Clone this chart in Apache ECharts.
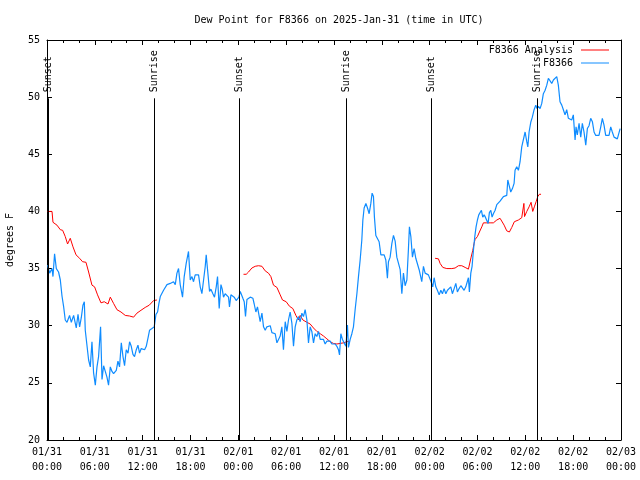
<!DOCTYPE html>
<html>
<head>
<meta charset="utf-8">
<script src="https://cdn.jsdelivr.net/npm/echarts@6/dist/echarts.min.js"></script>
<style>html,body{margin:0;padding:0;background:#fff}#c{width:640px;height:480px}</style>
</head>
<body>
<div id="c"></div>
<script>
// ---- data (hours since 2025-01-31 00:00 UTC) ----
const xTickLabels = ['01/31\n00:00','01/31\n06:00','01/31\n12:00','01/31\n18:00','02/01\n00:00','02/01\n06:00','02/01\n12:00','02/01\n18:00','02/02\n00:00','02/02\n06:00','02/02\n12:00','02/02\n18:00','02/03\n00:00'];

const obsHours = [0.08,0.33,0.63,0.75,0.95,1.17,1.45,1.67,1.88,2.08,2.29,2.51,2.83,3.05,3.34,3.55,3.67,3.89,4.09,4.30,4.51,4.68,4.80,5.02,5.22,5.43,5.64,5.84,6.06,6.27,6.47,6.72,6.90,7.10,7.31,7.52,7.72,7.94,8.15,8.35,8.69,8.90,9.10,9.32,9.53,9.73,9.94,10.16,10.36,10.57,10.78,10.98,11.20,11.41,11.61,11.82,12.04,12.24,12.45,12.66,12.86,13.16,13.45,13.67,13.87,14.04,14.21,14.62,15.05,15.46,15.87,16.09,16.30,16.50,16.71,17.00,17.21,17.47,17.75,17.97,18.18,18.38,18.59,18.81,19.01,19.22,19.43,19.63,19.85,19.97,20.14,20.39,20.56,20.81,21.01,21.23,21.39,21.60,21.82,21.98,22.14,22.35,22.57,22.77,22.89,23.07,23.32,23.48,23.73,23.90,24.07,24.24,24.36,24.57,24.74,24.90,25.08,25.28,25.49,25.83,25.99,26.20,26.40,26.62,26.74,26.96,27.16,27.37,27.58,27.78,28.00,28.21,28.41,28.62,28.84,29.04,29.25,29.46,29.66,29.88,30.09,30.29,30.50,30.72,30.92,31.13,31.34,31.54,31.76,31.97,32.17,32.38,32.60,32.80,33.01,33.22,33.43,33.64,33.85,34.05,34.27,34.48,34.68,34.89,35.11,35.31,35.52,35.73,35.93,36.15,36.36,36.56,36.69,36.86,37.06,37.27,37.49,37.69,37.81,38.03,38.24,38.44,38.65,38.87,39.07,39.28,39.49,39.62,39.78,40.00,40.20,40.41,40.62,40.78,40.95,41.07,41.25,41.45,41.66,41.88,42.08,42.29,42.50,42.70,42.83,43.04,43.26,43.46,43.67,43.88,44.08,44.30,44.51,44.71,44.92,45.14,45.34,45.46,45.64,45.84,46.05,46.26,46.46,46.68,46.89,47.01,47.22,47.43,47.64,47.84,48.06,48.18,48.39,48.56,48.77,48.97,49.19,49.40,49.60,49.81,50.03,50.23,50.44,50.65,50.85,51.07,51.28,51.48,51.69,51.91,52.11,52.32,52.53,52.73,52.86,52.98,53.16,53.32,53.49,53.66,53.82,53.99,54.16,54.33,54.49,54.66,54.83,54.99,55.17,55.33,55.49,55.67,55.83,55.99,56.21,56.42,56.62,56.83,57.05,57.25,57.46,57.67,57.80,57.96,58.17,58.38,58.59,58.71,58.92,59.13,59.34,59.55,59.75,59.97,60.18,60.31,60.47,60.68,60.88,61.10,61.31,61.47,61.64,61.85,62.06,62.26,62.48,62.69,62.89,63.10,63.31,63.52,63.73,63.94,64.14,64.35,64.57,64.77,64.98,65.19,65.40,65.61,65.82,66.02,66.24,66.36,66.52,66.74,66.95,67.15,67.36,67.58,67.78,67.99,68.20,68.41,68.62,68.83,69.03,69.24,69.46,69.66,69.87,70.08,70.28,70.50,70.71,70.91,71.13,71.34,71.54,71.72,71.89];
const obsValues = [35.3,34.6,35.0,34.3,36.3,35.0,34.7,34.0,32.6,31.7,30.5,30.3,30.9,30.3,30.9,30.2,29.8,31.0,29.9,30.7,31.8,32.1,29.6,29.5,27.0,26.4,28.6,25.9,24.8,26.4,27.3,29.9,25.3,26.5,26.0,25.5,24.8,26.4,26.0,25.8,26.1,26.9,26.4,28.5,27.3,26.5,27.9,27.6,28.6,28.2,27.5,27.3,27.9,28.3,27.6,28.0,27.9,27.9,28.2,28.9,29.6,29.75,29.9,31.0,31.2,31.95,32.55,33.1,33.6,33.7,33.85,33.6,34.6,35.0,33.6,32.5,34.3,35.5,36.5,34.0,34.3,33.85,34.45,34.6,34.45,33.4,32.8,32.7,35.2,36.2,34.9,33.0,33.2,32.8,32.5,33.4,34.3,31.5,33.6,33.2,32.5,32.8,32.7,32.5,31.65,32.7,32.8,32.5,32.2,32.1,32.5,33.0,33.1,32.4,32.1,30.8,32.3,32.4,32.5,32.4,31.9,31.2,31.65,31.5,30.35,31.1,29.9,29.6,29.9,29.8,30.0,29.4,29.4,29.3,28.5,28.8,29.1,29.9,27.9,30.35,29.5,30.5,31.2,30.2,28.2,29.9,30.5,30.8,30.35,31.1,30.8,31.4,30.5,28.5,29.9,29.5,28.5,29.3,29.05,29.5,28.8,28.65,28.8,28.4,28.65,28.5,28.65,28.4,28.5,28.4,28.2,27.9,27.45,29.3,28.8,28.5,28.2,30.05,28.1,28.8,29.3,29.9,31.4,32.8,34.3,35.75,37.5,39.25,40.3,40.7,40.3,39.8,40.7,41.6,41.3,39.5,37.9,37.9,37.35,36.2,36.2,36.2,35.75,34.15,35.6,36.0,37.2,37.9,37.4,36.0,35.9,34.9,32.8,34.6,33.5,34.0,36.75,38.65,37.8,36.0,36.75,35.9,35.9,34.9,34.75,33.85,35.2,34.6,34.6,34.45,34.6,33.85,33.4,34.2,33.4,33.1,32.7,33.1,32.8,33.25,32.8,33.1,32.95,33.4,32.8,33.25,33.7,32.95,33.25,33.5,33.4,33.1,33.4,33.5,34.2,32.95,34.6,35.2,36.6,37.8,38.65,39.25,39.7,39.8,40.1,39.5,39.7,39.5,39.4,38.95,39.9,40.1,39.5,39.8,40.1,40.6,40.7,40.9,41.05,41.3,41.4,41.4,42.75,42.3,41.7,42.0,42.45,43.6,43.9,43.6,44.35,45.65,45.8,46.95,46.1,45.65,46.95,47.8,48.25,48.9,49.3,49.0,49.2,49.0,49.45,50.3,50.6,51.05,51.65,51.5,51.2,51.5,51.35,51.8,51.05,49.6,49.3,48.9,48.45,48.9,48.15,48.3,48.0,48.45,46.25,47.4,46.7,47.7,46.5,47.7,46.95,45.8,47.25,47.5,48.15,47.85,46.95,46.65,46.65,46.65,47.4,48.15,47.55,46.65,46.65,46.65,47.4,46.95,46.5,46.5,46.35,46.2,47.25];

const anaHours1 = [0.08,0.63,0.75,1.25,1.67,1.96,2.29,2.58,2.73,2.92,3.26,3.64,4.09,4.46,4.89,5.22,5.64,5.97,6.34,6.77,7.18,7.65,7.94,8.35,8.78,9.28,9.82,10.36,10.86,11.28,11.79,12.32,12.83,13.37,13.79];
const anaValues1 = [40.0,40.0,39.05,38.8,38.4,38.35,37.8,37.15,37.2,37.65,36.9,36.2,35.9,35.6,35.55,34.7,33.55,33.4,32.7,32.0,32.1,31.9,32.5,31.95,31.4,31.2,30.9,30.85,30.75,31.1,31.35,31.6,31.8,32.2,32.25];
const anaHours2 = [24.65,24.99,25.28,25.70,26.12,26.53,26.96,27.37,27.78,28.08,28.41,28.84,29.25,29.54,30.00,30.42,30.84,31.22,31.54,31.76,32.10,32.60,33.01,33.43,33.85,34.27,34.68,35.11,35.52,35.93,36.36,36.77,37.19,37.61,37.94];
const anaValues2 = [34.5,34.5,34.7,35.05,35.2,35.25,35.2,34.8,34.6,34.3,33.55,33.35,32.7,32.25,32.1,31.7,31.5,30.9,30.5,30.9,30.5,30.3,30.15,29.8,29.5,29.3,29.1,28.85,28.6,28.45,28.4,28.45,28.5,28.6,28.65];
const anaHours3 = [48.68,49.10,49.31,49.65,50.15,50.78,51.19,51.61,52.03,52.45,52.86,53.07,53.20,53.41,53.57,53.70,53.99,54.24,54.54,54.74,55.17,55.58,55.99,56.42,56.83,57.05,57.34,57.67,58.00,58.30,58.62,59.13,59.55,59.75,59.82,59.90,60.18,60.47,60.72,60.93,61.13,61.35,61.56,61.76,61.97];
const anaValues3 = [35.9,35.85,35.45,35.1,35.0,35.0,35.05,35.25,35.25,35.1,34.95,35.0,36.0,36.6,37.2,37.55,37.8,38.2,38.65,39.0,39.0,39.0,39.0,39.25,39.4,39.25,38.8,38.3,38.2,38.6,39.1,39.25,39.45,39.55,40.7,39.55,40.0,40.4,40.8,40.0,40.4,40.85,41.3,41.5,41.5];

const eventHours = [0.1, 13.48, 24.12, 37.46, 48.14, 61.45];
const eventLabels = ['Sunset','Sunrise','Sunset','Sunrise','Sunset','Sunrise'];
const eventLineTop = 49.9;

// ---- build ----
const FONT = 'DejaVu Sans Mono';
const obsData = obsHours.map((h, i) => [h, obsValues[i]]);
function seg(hs, vs) { return hs.map((h, i) => [h, vs[i]]); }
const anaData = [].concat(seg(anaHours1, anaValues1), [[13.9, '-']],
                          seg(anaHours2, anaValues2), [[38.0, '-']],
                          seg(anaHours3, anaValues3));
const eventData = eventHours.map(h => [h, 20]);

const tickCommon = { show: true, inside: true, length: 5, lineStyle: { color: '#000', width: 1 } };
const minorCommon = { show: true, splitNumber: 3, length: 3, lineStyle: { color: '#000', width: 1 } };
const lineCommon = { show: true, onZero: false, lineStyle: { color: '#000', width: 1 } };

const chart = echarts.init(document.getElementById('c'), null, { renderer: 'canvas' });
chart.setOption({
  animation: false,
  backgroundColor: '#fff',
  title: {
    text: 'Dew Point for F8366 on 2025-Jan-31 (time in UTC)',
    left: 334, top: 10, textAlign: 'center',
    textStyle: { fontFamily: FONT, fontSize: 10, fontWeight: 'normal', color: '#000' }
  },
  legend: [
    { data: ['F8366 Analysis'], right: 26, top: 40, align: 'right', icon: 'rect', itemWidth: 28, itemHeight: 1,
      textStyle: { fontFamily: FONT, fontSize: 10, color: '#000', padding: [0, 3, 0, 0] } },
    { data: ['F8366'], right: 26, top: 53, align: 'right', icon: 'rect', itemWidth: 28, itemHeight: 1,
      textStyle: { fontFamily: FONT, fontSize: 10, color: '#000', padding: [0, 3, 0, 0] } }
  ],
  grid: { left: 47, right: 19, top: 40, bottom: 40, show: false, containLabel: false, outerBoundsMode: 'none' },
  xAxis: [
    { type: 'value', min: 0, max: 72, interval: 6, position: 'bottom',
      axisLine: lineCommon, axisTick: tickCommon, minorTick: minorCommon, splitLine: { show: false },
      axisLabel: { fontFamily: FONT, fontSize: 10, color: '#000', margin: 5, lineHeight: 15,
        formatter: v => xTickLabels[Math.round(v / 6)] } },
    { type: 'value', min: 0, max: 72, interval: 6, position: 'top',
      axisLine: lineCommon, axisTick: tickCommon, minorTick: minorCommon, splitLine: { show: false },
      axisLabel: { show: false } }
  ],
  yAxis: [
    { type: 'value', min: 20, max: 55, interval: 5, position: 'left',
      name: 'degrees F', nameLocation: 'middle', nameGap: 32, nameRotate: 90,
      nameTextStyle: { fontFamily: FONT, fontSize: 10, color: '#000' },
      axisLine: lineCommon, axisTick: tickCommon, splitLine: { show: false },
      axisLabel: { fontFamily: FONT, fontSize: 10, color: '#000', margin: 7 } },
    { type: 'value', min: 20, max: 55, interval: 5, position: 'right',
      axisLine: lineCommon, axisTick: tickCommon, splitLine: { show: false },
      axisLabel: { show: false } }
  ],
  series: [
    { name: 'F8366 Analysis', type: 'line', data: anaData, showSymbol: false, symbol: 'none',
      connectNulls: false, color: '#ff0000', lineStyle: { color: '#ff0000', width: 1 }, z: 2 },
    { name: 'F8366', type: 'line', data: obsData, showSymbol: false, symbol: 'none',
      color: '#0f8cff', lineStyle: { color: '#0f8cff', width: 1.2 }, z: 3 },
    { name: 'events', type: 'custom', data: eventData, encode: { x: 0, y: 1 }, z: 4, clip: false,
      renderItem: function (params, api) {
        const h = api.value(0);
        const p0 = api.coord([h, 20]);
        const p1 = api.coord([h, eventLineTop]);
        const x = Math.round(p0[0]) + 0.5;
        return { type: 'group', children: [
          { type: 'line', shape: { x1: x, y1: p0[1], x2: x, y2: p1[1] },
            style: { stroke: '#000', lineWidth: 1 } },
          { type: 'text', x: x, y: p1[1] - 6, rotation: Math.PI / 2,
            style: { text: eventLabels[params.dataIndex], fill: '#000',
              font: '10px ' + FONT, textAlign: 'left', textVerticalAlign: 'middle' } }
        ] };
      } }
  ]
});
</script>
</body>
</html>
